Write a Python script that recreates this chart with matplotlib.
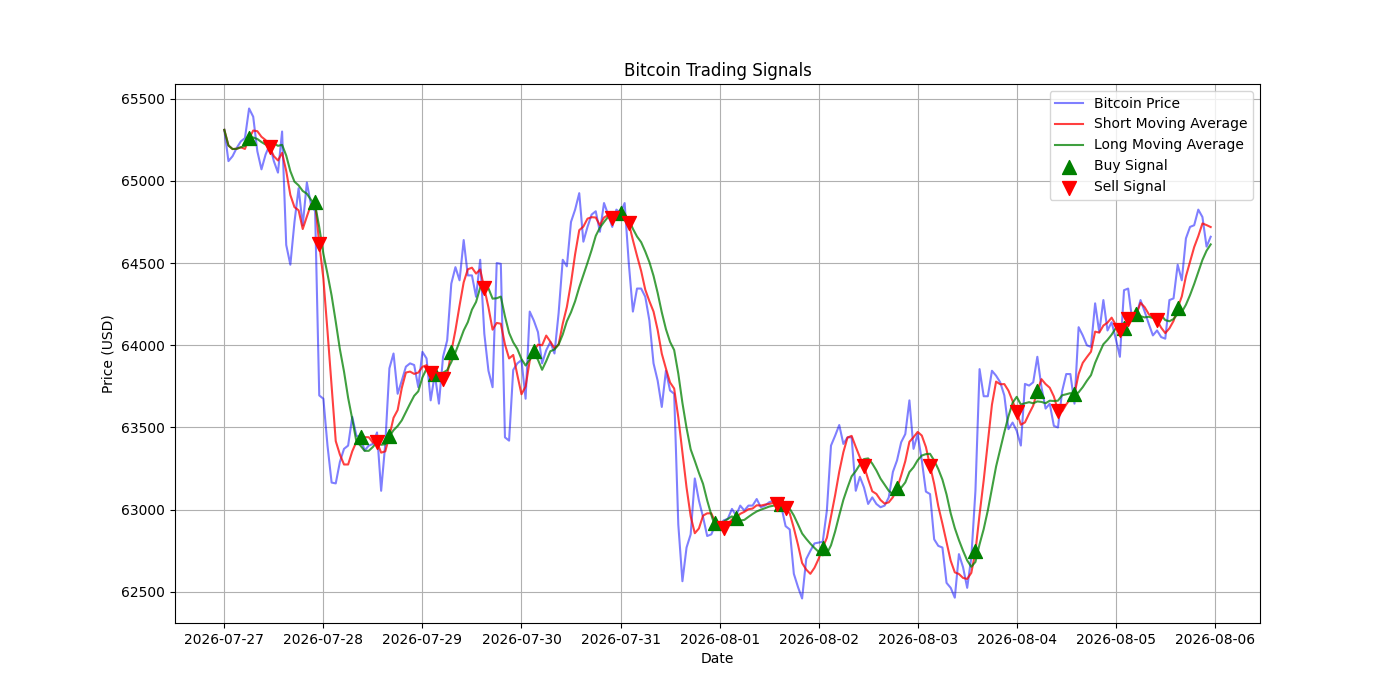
import pandas as pd
import matplotlib
matplotlib.use('Agg')
import matplotlib.pyplot as plt
import matplotlib.dates as mdates

# hourly prices, starting 2026-07-27 00:00
start = '2026-07-27 00:00'
price = [
    65310, 65120, 65150, 65200, 65240, 65260, 65440, 65390, 65180, 65070,
    65160, 65220, 65120, 65050, 65300, 64610, 64490, 64750, 64955, 64730,
    64990, 64855, 64815, 63695, 63675, 63390, 63165, 63160, 63290, 63370,
    63390, 63565, 63450, 63440, 63360, 63390, 63400, 63470, 63115, 63400,
    63860, 63950, 63705, 63785, 63870, 63890, 63880, 63745, 63960, 63920,
    63665, 63825, 63645, 63930, 64030, 64375, 64475, 64395, 64640, 64425,
    64425, 64295, 64520, 64070, 63845, 63745, 64500, 64495, 63440, 63420,
    63850, 63890, 63910, 63675, 64205, 64150, 64080, 63890, 63970, 64020,
    63950, 64195, 64520, 64480, 64750, 64825, 64925, 64630, 64720, 64795,
    64815, 64690, 64865, 64795, 64720, 64825, 64805, 64865, 64500, 64205,
    64345, 64345, 64295, 64150, 63890, 63785, 63625, 63845, 63725, 63705,
    62910, 62565, 62770, 62850, 63190, 63055, 62955, 62840, 62850, 62910,
    62910, 62935, 62945, 63005, 62965, 63025, 62995, 63025, 63025, 63065,
    63015, 63025, 63045, 63055, 63035, 63015, 62900, 62880, 62610, 62530,
    62460, 62700, 62750, 62795, 62800, 62805, 62995, 63390, 63450, 63515,
    63400, 63440, 63440, 63115, 63200, 63135, 63035, 63075, 63035, 63015,
    63025, 63075, 63230, 63300, 63410, 63460, 63665, 63370, 63460, 63300,
    63110, 63095, 62820, 62780, 62770, 62555, 62525, 62465, 62730, 62650,
    62525, 62710, 63115, 63855, 63690, 63690, 63845, 63815, 63775, 63695,
    63490, 63530, 63480, 63390, 63765, 63755, 63775, 63930, 63745, 63615,
    63645, 63510, 63500, 63720, 63825, 63825, 63645, 64110, 64060, 64000,
    63990, 64255, 64080, 64275, 64090, 64140, 64040, 63930, 64335, 64345,
    64150, 64185, 64275, 64205, 64130, 64060, 64090, 64050, 64040, 64275,
    64285, 64490, 64395, 64650, 64720, 64730, 64825, 64780, 64600, 64660,
]

short_window = 5
long_window = 10

buy_times = [
    '2026-07-27 06:00', '2026-07-27 22:00', '2026-07-28 09:00', '2026-07-28 16:00',
    '2026-07-29 03:00', '2026-07-29 07:00', '2026-07-30 03:00', '2026-07-31 00:00',
    '2026-07-31 23:00', '2026-08-01 04:00', '2026-08-01 15:00', '2026-08-02 01:00',
    '2026-08-02 19:00', '2026-08-03 14:00', '2026-08-04 05:00', '2026-08-04 14:00',
    '2026-08-05 02:00', '2026-08-05 05:00', '2026-08-05 15:00',
]
sell_times = [
    '2026-07-27 11:00', '2026-07-27 23:00', '2026-07-28 13:00', '2026-07-29 02:00',
    '2026-07-29 05:00', '2026-07-29 15:00', '2026-07-30 22:00', '2026-07-31 02:00',
    '2026-08-01 01:00', '2026-08-01 14:00', '2026-08-01 16:00', '2026-08-02 11:00',
    '2026-08-03 03:00', '2026-08-04 00:00', '2026-08-04 10:00', '2026-08-05 01:00',
    '2026-08-05 03:00', '2026-08-05 10:00',
]

dates = pd.date_range(start, periods=len(price), freq='h')
df = pd.DataFrame({'price': price}, index=dates)
df['short'] = df['price'].rolling(short_window, min_periods=1).mean()
df['long'] = df['price'].rolling(long_window, min_periods=1).mean()

buys = df.loc[pd.to_datetime(buy_times)]
sells = df.loc[pd.to_datetime(sell_times)]

fig, ax = plt.subplots(figsize=(14, 7), dpi=100)
ax.plot(df.index, df['price'], color='blue', alpha=0.5, label='Bitcoin Price')
ax.plot(df.index, df['short'], color='red', alpha=0.75, label='Short Moving Average')
ax.plot(df.index, df['long'], color='green', alpha=0.75, label='Long Moving Average')
ax.scatter(buys.index, buys['short'], marker='^', color='green', s=100, label='Buy Signal', zorder=3)
ax.scatter(sells.index, sells['short'], marker='v', color='red', s=100, label='Sell Signal', zorder=3)

ax.xaxis.set_major_locator(mdates.DayLocator())
ax.xaxis.set_major_formatter(mdates.DateFormatter('%Y-%m-%d'))
ax.set_title('Bitcoin Trading Signals')
ax.set_xlabel('Date')
ax.set_ylabel('Price (USD)')
ax.legend(loc='upper right')
ax.grid(True)

plt.savefig('out.png')
